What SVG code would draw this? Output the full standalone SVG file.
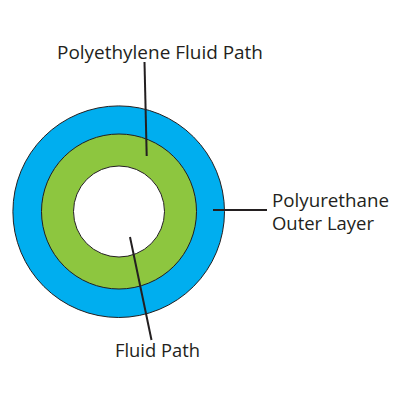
<svg xmlns="http://www.w3.org/2000/svg" width="400" height="400" viewBox="0 0 400 400">
<style>
.t{font-family:"Open Sans","Liberation Sans",sans-serif;font-size:18px;fill:#231f20}
.ring{stroke:#231f20;stroke-width:1}
.lead{stroke:#231f20;stroke-width:2;fill:none}
</style>
<rect width="400" height="400" fill="#fff"/>
<g id="outer-layer"><circle class="ring" cx="118.7" cy="211.7" r="105.8" fill="#00aeef"/></g>
<g id="polyethylene"><circle class="ring" cx="119" cy="211.5" r="77.5" fill="#8dc63f"/></g>
<g id="fluid-path"><circle class="ring" cx="119" cy="211.5" r="45.5" fill="#fff"/></g>
<g id="connectors">
<line class="lead" x1="144.5" y1="62" x2="146.7" y2="156"/>
<line class="lead" x1="213" y1="210" x2="267" y2="210"/>
<line class="lead" x1="130" y1="237" x2="151.5" y2="340"/>
</g>
<g id="labels">
<text class="t" x="57" y="59" textLength="206" lengthAdjust="spacingAndGlyphs">Polyethylene Fluid Path</text>
<text class="t" x="272" y="207" textLength="117" lengthAdjust="spacingAndGlyphs">Polyurethane</text>
<text class="t" x="272" y="230" textLength="102" lengthAdjust="spacingAndGlyphs">Outer Layer</text>
<text class="t" x="115" y="357" textLength="85" lengthAdjust="spacingAndGlyphs">Fluid Path</text>
</g>
</svg>
